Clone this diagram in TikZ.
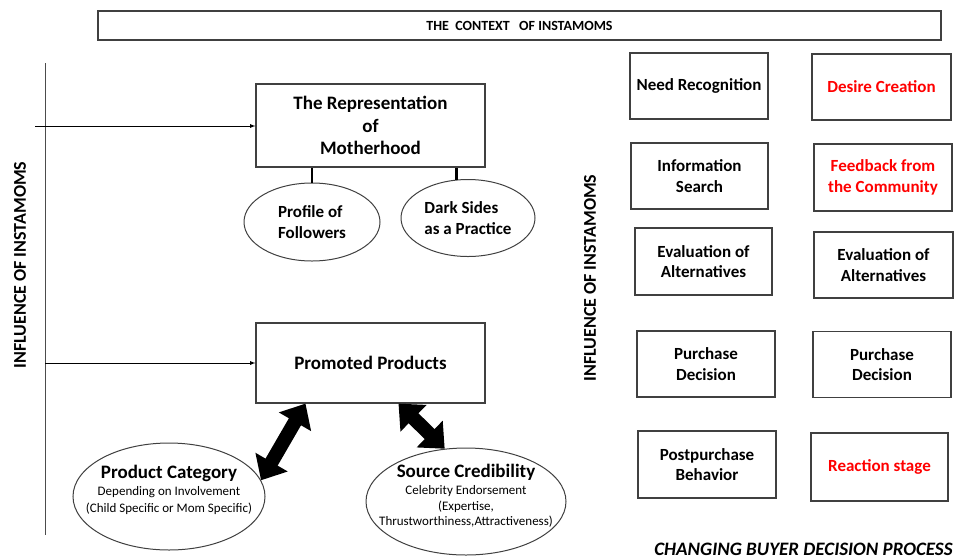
\documentclass[tikz,border=0pt]{standalone}
\usepackage{fontspec}
\setmainfont{Carlito}
\usetikzlibrary{shapes.geometric,arrows.meta}
\newcommand{\sz}[2]{\fontsize{#1}{#2}\selectfont}

\begin{document}
\begin{tikzpicture}[x=1pt, y=-1pt, >=latex,
    stage/.style={draw=black!75, line width=1.2pt, minimum width=138pt, minimum height=66pt, align=center, font=\sz{17}{20.5}\bfseries},
    mainbox/.style={draw=black!75, line width=1.2pt, minimum width=229pt, align=center, font=\sz{19}{22.5}\bfseries},
    oval/.style={ellipse, draw=black!75, line width=1pt, inner sep=0pt},
    sidetext/.style={rotate=90, font=\sz{18}{20}\bfseries},
    fat/.style={line width=14pt, {Triangle[length=21pt,width=36pt]}-{Triangle[length=21pt,width=36pt]}},
    stub/.style={line width=2.5pt}]
\useasboundingbox (0,0) rectangle (959,558);

\node[draw=black!75, line width=1.2pt, minimum width=843pt, minimum height=29pt, font=\sz{14}{16}\bfseries] (context) at (519.5,25.5) {THE\ \ CONTEXT\ \ \ OF INSTAMOMS};

\node[sidetext] (inflL) at (20,265) {INFLUENCE OF INSTAMOMS};
\node[sidetext] (inflR) at (590,278) {INFLUENCE OF INSTAMOMS};

\coordinate (ltop) at (45,63);
\coordinate (lbot) at (45,535);
\draw[line width=1pt, black!70] (ltop) -- (lbot);

\node[mainbox, minimum height=83pt] (rep) at (370.5,125.5) {The Representation\\of\\Motherhood};
\node[mainbox, minimum height=80pt] (prom) at (370.5,363) {Promoted Products};

\coordinate (in1) at (35,126);
\coordinate (in2) at (45,363);
\draw[->, line width=.8pt] (in1) -- (in1 -| rep.west);
\draw[->, line width=.8pt] (in2) -- (in2 -| prom.west);

\node[oval, minimum width=136pt, minimum height=78pt, align=left, font=\sz{17}{21}\bfseries] (prof) at (312,222) {Profile of\\Followers};
\node[oval, minimum width=134pt, minimum height=77pt, align=left, font=\sz{17}{21}\bfseries] (dark) at (468,218) {Dark Sides\\as a Practice};
\draw[stub] (prof.north) -- (prof.north |- rep.south);
\draw[stub] (dark.107) -- (dark.107 |- rep.south);

\node[oval, minimum width=192pt, minimum height=107pt] (pcat) at (169,496.5) {};
\node[align=center, font=\sz{13}{17}] (pcattext) at (169,490) {{\sz{19}{17}\bfseries Product Category}\\Depending on Involvement\\(Child Specific or Mom Specific)};
\node[oval, minimum width=200pt, minimum height=107pt] (scred) at (466,501.5) {};
\node[align=center, font=\sz{13}{15.5}] (scredtext) at (466,496) {{\sz{19}{17}\bfseries Source Credibility}\\[1.5pt]Celebrity Endorsement\\(Expertise,\\Thrustworthiness,Attractiveness)};

\draw[fat] ([xshift=-65pt]prom.south) -- (pcat.10);
\draw[fat] ([xshift=28pt]prom.south) -- (scred.112);

\node[stage] (need) at (699,86) {Need Recognition};
\node[stage, text=red, minimum width=139pt] (desire) at (881.5,87) {Desire Creation};
\node[stage, minimum width=137pt] (info) at (699.5,176) {Information\\Search};
\node[stage, text=red, minimum height=67pt] (feedback) at (883,177.5) {Feedback from\\the Community};
\node[stage, minimum width=137pt, minimum height=67pt] (evalA) at (703.5,261.5) {Evaluation of\\Alternatives};
\node[stage, minimum width=139pt] (evalB) at (883.5,265) {Evaluation of\\Alternatives};
\node[stage] (purchA) at (706,364) {Purchase\\Decision};
\node[stage] (purchB) at (882,364.5) {Purchase\\Decision};
\node[stage, minimum height=67pt] (postp) at (707,464.5) {Postpurchase\\Behavior};
\node[stage, text=red, minimum width=137pt, minimum height=68pt] (react) at (879.5,467) {Reaction stage};

\node[anchor=base, font=\sz{19}{21}\bfseries\itshape] (caption) at (803.5,555) {CHANGING BUYER DECISION PROCESS};
\end{tikzpicture}
\end{document}
